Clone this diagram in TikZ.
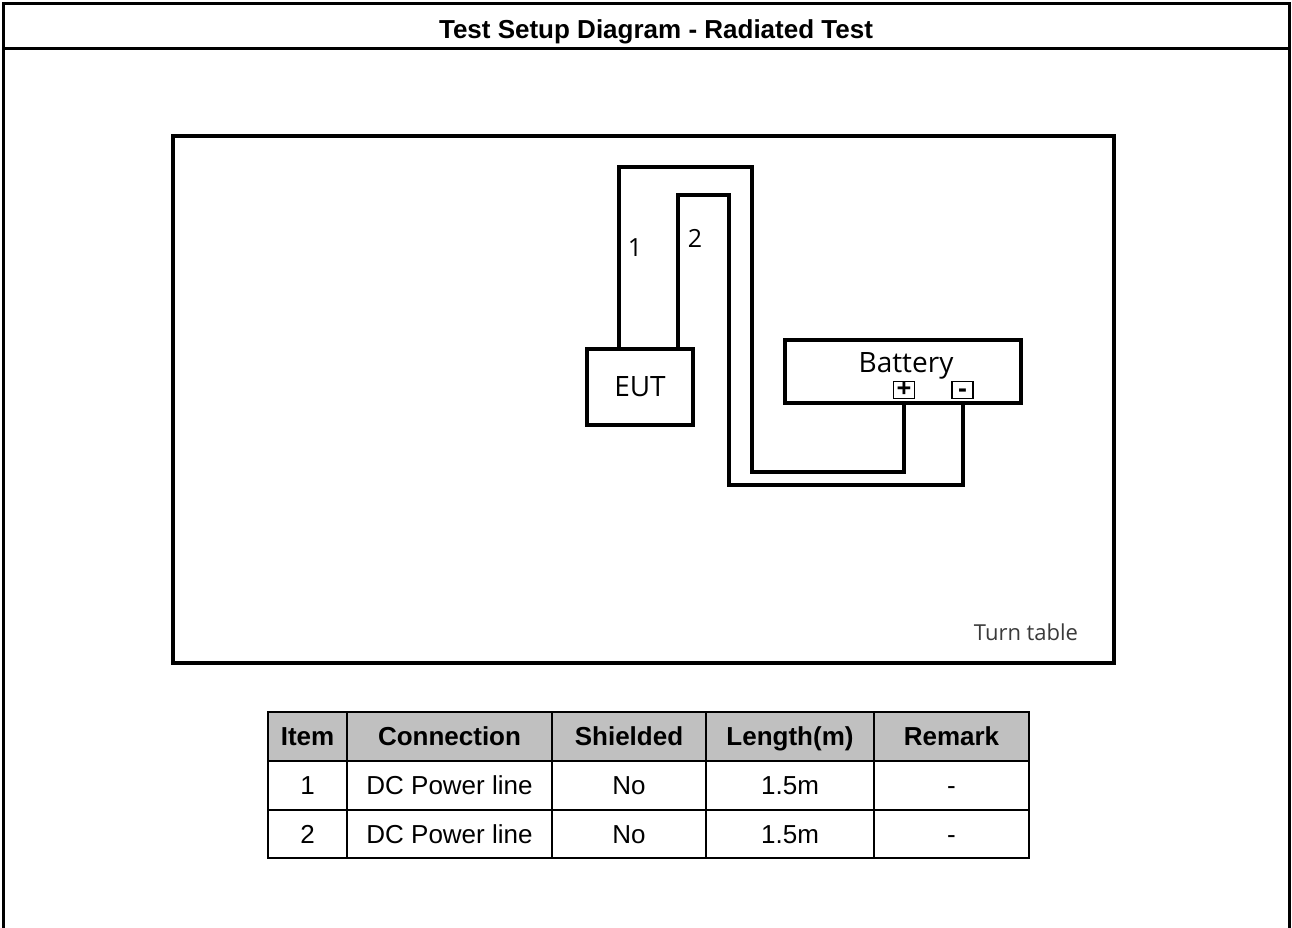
\documentclass[tikz,border=0pt]{standalone}
\usepackage{fontspec}
\setmainfont{Liberation Sans}
\newfontfamily\sketchfont{Open Sans}
\usetikzlibrary{positioning,calc}
\definecolor{HeadGray}{HTML}{C0C0C0}
\definecolor{NoteGray}{HTML}{3A3A3A}

\begin{document}
\begin{tikzpicture}[
  x=1pt,y=-1pt,
  every node/.style={align=center,inner sep=0pt},
  frame/.style={line width=3pt,line cap=rect},
  title/.style={font=\fontsize{26}{30}\selectfont\bfseries},
  sketch/.style={font=\sketchfont\fontsize{28}{32}\selectfont},
  unit/.style={draw,line width=4pt},
  term/.style={draw,line width=1.8pt,minimum width=21pt,minimum height=17pt,text height=14pt,text depth=0pt,font=\sketchfont\bfseries\fontsize{26}{26}\selectfont},
  wire/.style={line width=4pt,line join=miter},
  cell/.style={draw,line width=2pt,outer sep=0pt,text height=18.6pt,text depth=0pt,font=\fontsize{26}{30}\selectfont},
  head/.style={cell,fill=HeadGray,font=\fontsize{26}{30}\selectfont\bfseries}
]
\useasboundingbox (0,0) rectangle (1292,927);
% outer frame with title row
\draw[frame] (3,927) -- (3,3) -- (1289,3) -- (1289,927);
\draw[frame] (3,48) -- (1289,48);
\node[title] (title) at (656,32) {Test Setup Diagram - Radiated Test};

% turn table and units on it
\node[unit,minimum width=941pt,minimum height=527pt] (turntable) at (643.5,399.5) {};
\node[sketch,font=\sketchfont\fontsize{22}{24}\selectfont,text=NoteGray] (ttlabel) at (1026,632) {Turn table};
\node[unit,minimum width=106pt,minimum height=76pt,sketch] (eut) at (640,387) {EUT};
\node[unit,minimum width=236pt,minimum height=63pt] (battery) at (903,371.5) {};
\node[sketch] (battlabel) at (906,366) {Battery};
\node[term] (plus) at (904,390) {+};
\node[term] (minus) at (962.5,390) {-};

% cables
\draw[wire] ([xshift=-21pt]eut.north) |- (752,167) -- (752,472) -| (plus.south |- battery.south);
\draw[wire] ([xshift=37.5pt]eut.north) |- (729,195) -- (729,485) -| (minus.south |- battery.south);
\node[sketch,font=\sketchfont\fontsize{25}{28}\selectfont] (cab1) at (635,248) {1};
\node[sketch,font=\sketchfont\fontsize{25}{28}\selectfont] (cab2) at (695,238) {2};

% cable table
\node[head,minimum width=79pt,minimum height=49pt] (hitem) at (307.5,736.5) {Item};
\node[head,minimum width=205pt,minimum height=49pt] (hconn) at (449.5,736.5) {Connection};
\node[head,minimum width=154pt,minimum height=49pt] (hshield) at (629,736.5) {Shielded};
\node[head,minimum width=168pt,minimum height=49pt] (hlen) at (790,736.5) {Length(m)};
\node[head,minimum width=155pt,minimum height=49pt] (hrem) at (951.5,736.5) {Remark};
\node[cell,minimum width=79pt,minimum height=49pt,below=0pt of hitem] (item1) {1};
\node[cell,minimum width=205pt,minimum height=49pt,below=0pt of hconn] (conn1) {DC Power line};
\node[cell,minimum width=154pt,minimum height=49pt,below=0pt of hshield] (shield1) {No};
\node[cell,minimum width=168pt,minimum height=49pt,below=0pt of hlen] (len1) {1.5m};
\node[cell,minimum width=155pt,minimum height=49pt,below=0pt of hrem] (rem1) {-};
\node[cell,minimum width=79pt,minimum height=48pt,below=0pt of item1] (item2) {2};
\node[cell,minimum width=205pt,minimum height=48pt,below=0pt of conn1] (conn2) {DC Power line};
\node[cell,minimum width=154pt,minimum height=48pt,below=0pt of shield1] (shield2) {No};
\node[cell,minimum width=168pt,minimum height=48pt,below=0pt of len1] (len2) {1.5m};
\node[cell,minimum width=155pt,minimum height=48pt,below=0pt of rem1] (rem2) {-};
\end{tikzpicture}
\end{document}
